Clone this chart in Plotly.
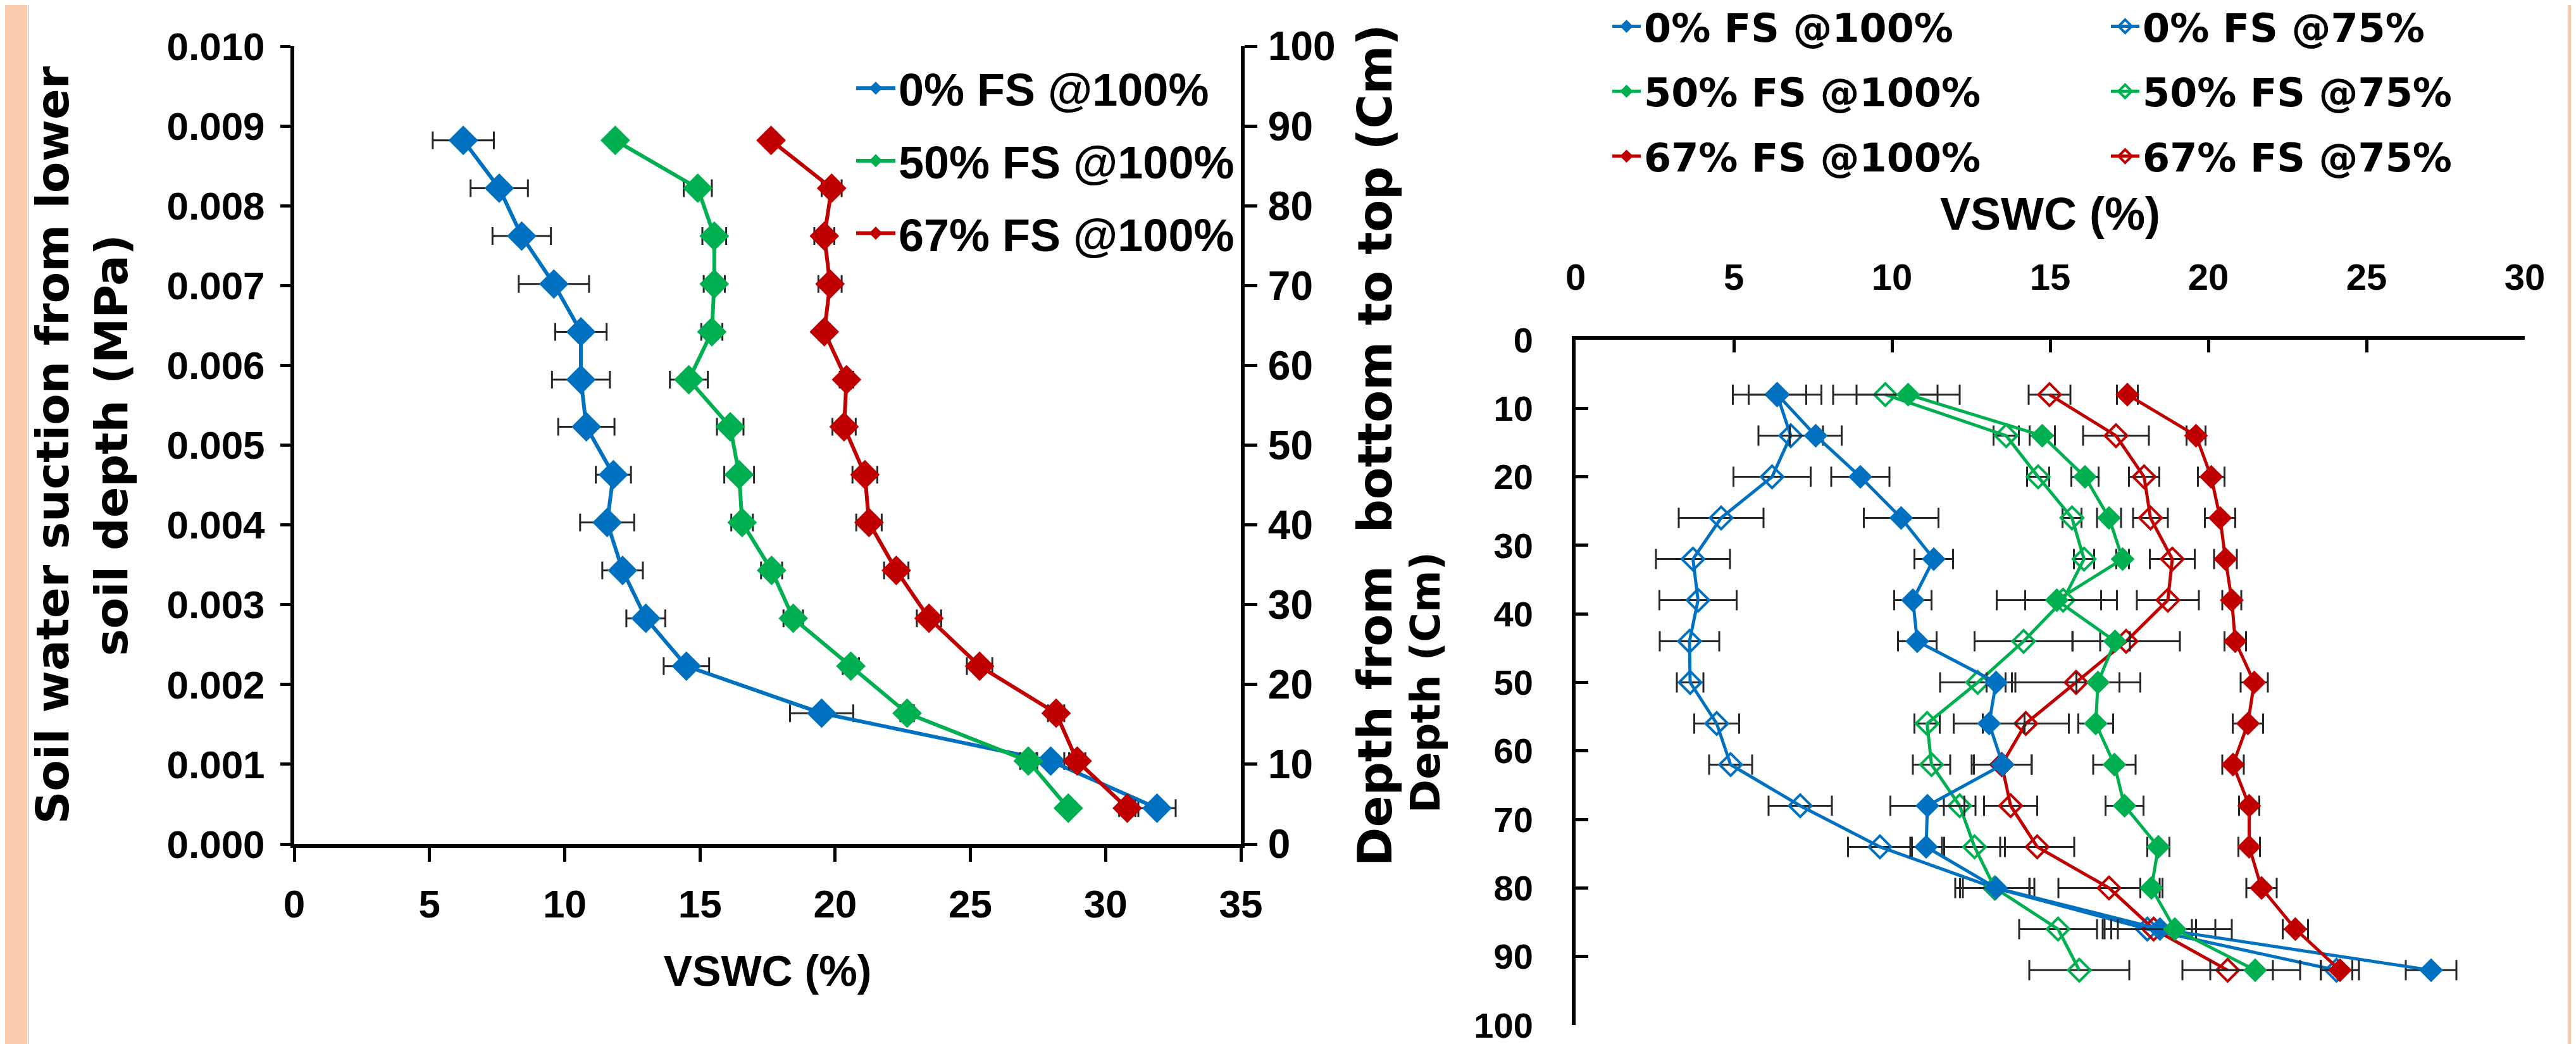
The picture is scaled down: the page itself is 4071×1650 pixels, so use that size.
import plotly.graph_objects as go

W, H = 4071, 1650

# ---------------- Left panel data (depth from bottom to top, cm) ----------------
depth_left = [88.2, 82.2, 76.2, 70.2, 64.2, 58.2, 52.3, 46.3, 40.3, 34.3, 28.3, 22.3, 16.4, 10.4, 4.5]
left_0fs_100 = [6.25, 7.58, 8.41, 9.6, 10.6, 10.6, 10.8, 11.8, 11.57, 12.14, 13.0, 14.5, 19.5, 27.97, 31.9]
left_0fs_100_err = [1.13, 1.06, 1.08, 1.3, 0.95, 1.07, 1.04, 0.65, 1.0, 0.75, 0.72, 0.84, 1.17, 0.5, 0.69]
left_50fs_100 = [11.87, 14.92, 15.53, 15.53, 15.44, 14.59, 16.12, 16.45, 16.56, 17.65, 18.45, 20.58, 22.66, 27.14, 28.62]
left_50fs_100_err = [0.2, 0.52, 0.44, 0.39, 0.39, 0.7, 0.49, 0.55, 0.4, 0.39, 0.36, 0.3, 0.25, 0.3, 0.1]
left_67fs_100 = [17.63, 19.87, 19.6, 19.81, 19.6, 20.42, 20.33, 21.1, 21.25, 22.26, 23.47, 25.34, 28.17, 28.95, 30.8]
left_67fs_100_err = [0.2, 0.37, 0.37, 0.43, 0.2, 0.25, 0.43, 0.46, 0.47, 0.45, 0.45, 0.47, 0.3, 0.3, 0.3]

# left axis: soil water suction labels placed at the matching depth ticks (0.001 MPa per 10 cm)
depth_ticks = [0, 10, 20, 30, 40, 50, 60, 70, 80, 90, 100]
suction_labels = ["0.000", "0.001", "0.002", "0.003", "0.004", "0.005",
                  "0.006", "0.007", "0.008", "0.009", "0.010"]

# ---------------- Right panel data (depth, cm) ----------------
depth_right = [8, 14, 20, 26, 32, 38, 44, 50, 56, 62, 68, 74, 80, 86, 92]
r_0fs_100 = [6.38, 7.59, 9.0, 10.29, 11.32, 10.66, 10.8, 13.29, 13.07, 13.5, 11.12, 11.08, 13.29, 18.47, 27.04]
r_0fs_100_err = [0.91, 0.82, 0.92, 1.18, 0.61, 0.59, 0.61, 0.3, 1.12, 0.91, 1.17, 0.5, 1.05, 1.75, 0.8]
r_0fs_75 = [6.37, 6.8, 6.21, 4.6, 3.71, 3.87, 3.6, 3.62, 4.46, 4.9, 7.1, 9.62, 13.25, 18.07, 24.05]
r_0fs_75_err = [1.4, 1.02, 1.22, 1.34, 1.17, 1.22, 0.94, 0.42, 0.71, 0.68, 1.0, 1.01, 1.25, 1.41, 0.5]
r_50fs_100 = [10.51, 14.75, 16.1, 16.86, 17.29, 15.21, 17.05, 16.51, 16.44, 17.03, 17.35, 18.42, 18.2, 18.94, 21.48]
r_50fs_100_err = [1.63, 0.4, 0.43, 0.38, 0.2, 1.9, 0.47, 0.68, 0.55, 0.67, 0.6, 0.35, 0.35, 1.8, 1.42]
r_50fs_75 = [9.79, 13.61, 14.62, 15.69, 16.07, 15.41, 14.16, 12.71, 11.11, 11.25, 12.14, 12.61, 13.25, 15.25, 15.92]
r_50fs_75_err = [1.65, 0.4, 0.35, 0.3, 0.32, 1.2, 1.55, 1.19, 0.4, 0.59, 0.5, 0.96, 1.1, 1.23, 1.58]
r_67fs_100 = [17.44, 19.61, 20.09, 20.37, 20.54, 20.74, 20.85, 21.45, 21.25, 20.78, 21.29, 21.29, 21.68, 22.75, 24.16]
r_67fs_100_err = [0.33, 0.3, 0.42, 0.48, 0.36, 0.3, 0.34, 0.43, 0.48, 0.34, 0.32, 0.34, 0.48, 0.4, 0.6]
r_67fs_75 = [14.98, 17.08, 17.97, 18.17, 18.86, 18.72, 17.4, 15.82, 14.23, 13.47, 13.75, 14.59, 16.86, 18.27, 20.61]
r_67fs_75_err = [0.66, 1.04, 0.48, 0.55, 0.71, 0.98, 1.7, 2.03, 1.36, 0.95, 0.84, 1.17, 1.6, 1.34, 1.43]

BLUE, GREEN, RED = "#0070C0", "#00B050", "#C00000"
ERRC = "#262626"
ARIAL = "Liberation Sans, Arial, sans-serif"
VERD = "DejaVu Sans, Verdana, sans-serif"


def px_x(p):
    return p / W


def px_y(p):
    return 1 - p / H


fig = go.Figure()

# ---------------- Left panel traces ----------------
for name, vals, errs, col, yax in [
    ("0% FS @100%", left_0fs_100, left_0fs_100_err, BLUE, "y"),
    ("50% FS @100%", left_50fs_100, left_50fs_100_err, GREEN, "y2"),
    ("67% FS @100%", left_67fs_100, left_67fs_100_err, RED, "y2"),
]:
    fig.add_trace(go.Scatter(
        x=vals, y=depth_left, xaxis="x", yaxis=yax, name=name, legend="legend",
        legendgroup="L" + name,
        mode="lines+markers",
        line=dict(color=col, width=6),
        marker=dict(symbol="diamond", size=36, color=col),
        error_x=dict(type="data", array=errs, color=ERRC, thickness=3, width=14),
    ))

# ---------------- Right panel traces ----------------
right_sets = [
    ("0% FS @75%", r_0fs_75, r_0fs_75_err, BLUE, True, "legend3"),
    ("50% FS @75%", r_50fs_75, r_50fs_75_err, GREEN, True, "legend3"),
    ("67% FS @75%", r_67fs_75, r_67fs_75_err, RED, True, "legend3"),
    ("0% FS @100%", r_0fs_100, r_0fs_100_err, BLUE, False, "legend2"),
    ("50% FS @100%", r_50fs_100, r_50fs_100_err, GREEN, False, "legend2"),
    ("67% FS @100%", r_67fs_100, r_67fs_100_err, RED, False, "legend2"),
]
for name, vals, errs, col, hollow, leg in right_sets:
    if hollow:
        mk = dict(symbol="diamond-open", size=27, color=col, line=dict(color=col, width=4))
    else:
        mk = dict(symbol="diamond", size=29, color=col)
    fig.add_trace(go.Scatter(
        x=vals, y=depth_right, xaxis="x3", yaxis="y3", name=name, legend=leg,
        legendgroup="R" + name,
        mode="lines+markers",
        line=dict(color=col, width=5),
        marker=mk,
        error_x=dict(type="data", array=errs, color=ERRC, thickness=3, width=16),
    ))

bold = dict(color="black", weight="bold")

fig.update_layout(
    template="none",
    width=W, height=H,
    margin=dict(l=0, r=0, t=0, b=0, autoexpand=False),
    paper_bgcolor="white", plot_bgcolor="rgba(0,0,0,0)",
    showlegend=True,
    xaxis=dict(
        domain=[px_x(457), px_x(1953)], anchor="y", range=[0, 35], dtick=5, tick0=0,
        showline=True, linecolor="black", linewidth=6, mirror=False, automargin=False,
        ticks="outside", ticklen=22, tickwidth=5, tickcolor="black",
        tickfont=dict(family=ARIAL, size=62, **bold), ticklabelstandoff=14,
        showgrid=False, zeroline=False,
        title=dict(text="VSWC (%)", font=dict(family=ARIAL, size=68, **bold), standoff=50),
    ),
    yaxis=dict(
        domain=[px_y(1326), px_y(65)], anchor="x", range=[0, 100],
        tickvals=depth_ticks, ticktext=suction_labels,
        showline=True, linecolor="black", linewidth=6, automargin=False,
        ticks="outside", ticklen=16, tickwidth=5, tickcolor="black",
        tickfont=dict(family=ARIAL, size=62, **bold), ticklabelstandoff=12,
        showgrid=False, zeroline=False,
        title=dict(text="Soil water suction from lower<br>soil depth (MPa)",
                   font=dict(family=VERD, size=72, **bold), standoff=40),
    ),
    yaxis2=dict(
        overlaying="y", side="right", anchor="x", range=[0, 100], dtick=10, tick0=0,
        showline=True, linecolor="black", linewidth=6, automargin=False,
        ticks="outside", ticklen=20, tickwidth=5, tickcolor="black",
        tickfont=dict(family=ARIAL, size=64, **bold), ticklabelstandoff=4,
        showgrid=False, zeroline=False,
        title=dict(text="Depth from  bottom to top (Cm)",
                   font=dict(family=VERD, size=74, **bold), standoff=40),
    ),
    xaxis3=dict(
        domain=[px_x(2482), px_x(3982)], anchor="y3", side="top", range=[0, 30], dtick=5, tick0=0,
        showline=True, linecolor="black", linewidth=6, automargin=False,
        ticks="inside", ticklen=20, tickwidth=5, tickcolor="black",
        tickfont=dict(family=ARIAL, size=58, **bold), ticklabelstandoff=50,
        showgrid=False, zeroline=False,
        title=dict(text="VSWC (%)", font=dict(family=ARIAL, size=72, **bold), standoff=20),
    ),
    yaxis3=dict(
        domain=[px_y(1612), px_y(529)], anchor="x3", range=[100, 0], dtick=10, tick0=0,
        showline=True, linecolor="black", linewidth=6, automargin=False,
        ticks="inside", ticklen=20, tickwidth=5, tickcolor="black",
        tickfont=dict(family=ARIAL, size=56, **bold), ticklabelstandoff=50,
        ticklabeloverflow="allow",
        showgrid=False, zeroline=False,
        title=dict(text="Depth (Cm)", font=dict(family=VERD, size=64, **bold), standoff=35),
    ),
    legend=dict(
        x=px_x(1340), y=px_y(78), xanchor="left", yanchor="top",
        font=dict(family=ARIAL, size=72, **bold), bgcolor="rgba(0,0,0,0)",
        itemwidth=62, tracegroupgap=18,
    ),
    legend2=dict(
        x=px_x(2535), y=1.008, xanchor="left", yanchor="top",
        font=dict(family=VERD, size=62, **bold), bgcolor="rgba(0,0,0,0)",
        itemwidth=45, tracegroupgap=19,
    ),
    legend3=dict(
        x=px_x(3323), y=1.008, xanchor="left", yanchor="top",
        font=dict(family=VERD, size=62, **bold), bgcolor="rgba(0,0,0,0)",
        itemwidth=45, tracegroupgap=19,
    ),
    shapes=[
        dict(type="rect", xref="paper", yref="paper", x0=0, x1=px_x(35), y0=0, y1=1,
             fillcolor="#F8CBAD", line=dict(width=0), layer="below"),
        dict(type="rect", xref="paper", yref="paper", x0=px_x(4050), x1=1, y0=0, y1=1,
             fillcolor="#F8CBAD", line=dict(width=0), layer="below"),
        dict(type="line", xref="paper", yref="paper", x0=px_x(37), x1=px_x(37), y0=0, y1=1,
             line=dict(color="#D9D9D9", width=2), layer="below"),
    ],
)

fig.write_html("out.html")
